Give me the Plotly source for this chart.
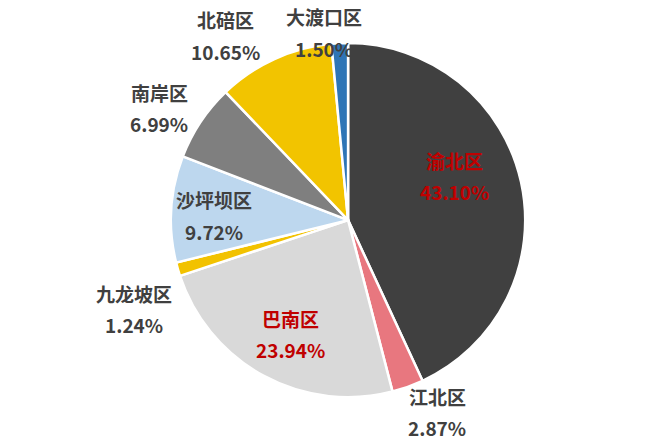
import plotly.graph_objects as go

districts = ["渝北区", "江北区", "巴南区", "九龙坡区", "沙坪坝区", "南岸区", "北碚区", "大渡口区"]
shares = [43.10, 2.87, 23.94, 1.24, 9.72, 6.99, 10.65, 1.50]
colors = ["#404040", "#e8777f", "#d9d9d9", "#f2c200", "#bdd7ee", "#7f7f7f", "#f2c400", "#2e75b6"]

# label centres in pixels (name line), percentage sits one line below
label_pos = [(455, 160), (437, 396), (290, 318), (134, 293),
             (214, 200), (159, 92), (225, 20), (324, 17)]
label_red = [True, False, True, False, False, False, False, False]

W, H = 650, 442

fig = go.Figure(go.Pie(
    labels=districts,
    values=shares,
    sort=False,
    direction="clockwise",
    rotation=0,
    marker=dict(colors=colors, line=dict(color="white", width=2.5)),
    textinfo="none",
    hoverinfo="label+percent",
    domain=dict(x=[0.263, 0.808], y=[0.101, 0.903]),
    showlegend=False,
))

for name, val, (px, py), red in zip(districts, shares, label_pos, label_red):
    col = "#c00000" if red else "#404040"
    for txt, dy in [(name, 0), (f"{val:.2f}%", 31)]:
        fig.add_annotation(
            x=px / W, y=1 - (py + dy) / H, xref="paper", yref="paper",
            text=f"<b>{txt}</b>", showarrow=False,
            xanchor="center", yanchor="middle",
            font=dict(family="Noto Sans CJK SC", size=19, color=col),
        )

fig.update_layout(
    width=W, height=H,
    margin=dict(l=0, r=0, t=0, b=0),
    paper_bgcolor="white",
    plot_bgcolor="white",
)

# drop the browser's default body margin so the figure sits at the page corner
fig.write_html("out.html", config={"displayModeBar": False},
               post_script="document.body.style.margin='0px';")
